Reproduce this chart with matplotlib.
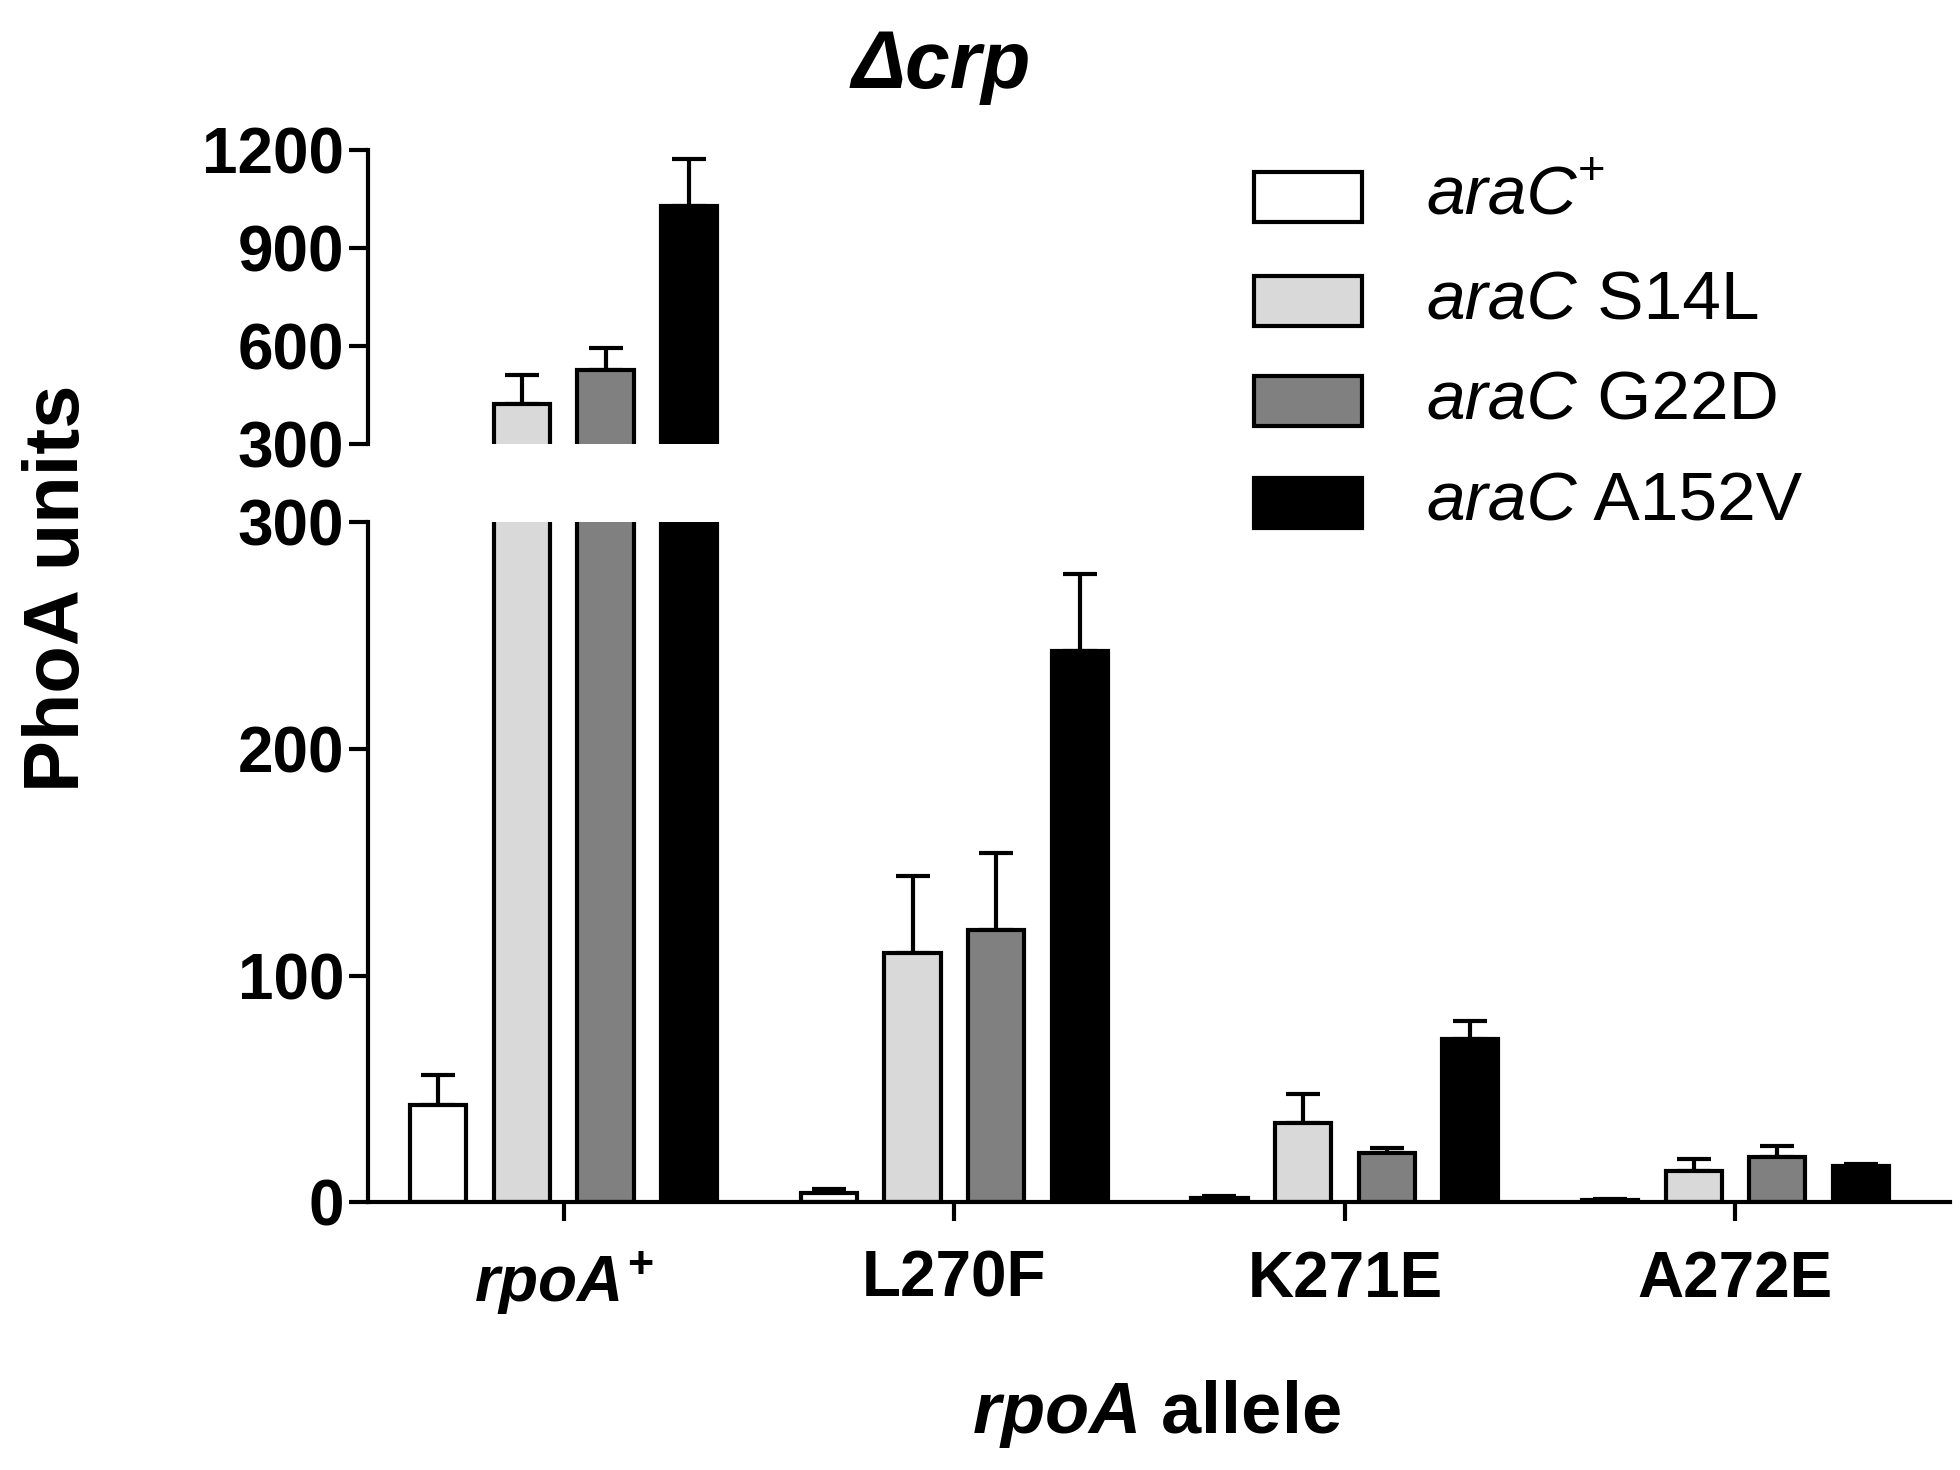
import matplotlib
matplotlib.use("Agg")
import matplotlib.pyplot as plt
import numpy as np

plt.rcParams['font.family'] = ['Liberation Sans', 'DejaVu Sans']
plt.rcParams['mathtext.fontset'] = 'custom'
plt.rcParams['mathtext.it'] = 'Liberation Sans:bold:italic'
plt.rcParams['mathtext.rm'] = 'Liberation Sans:bold'
plt.rcParams['mathtext.bf'] = 'Liberation Sans:bold'

groups = ["$rpoA^{+}$", "L270F", "K271E", "A272E"]
series = ["araC+", "araC S14L", "araC G22D", "araC A152V"]
colors = ["white", "#d9d9d9", "#808080", "black"]
means = [
    [43, 4, 2, 1],
    [422, 110, 35, 14],
    [526, 120, 22, 20],
    [1028, 243, 72, 16],
]
errs = [
    [13, 2, 1, 0.5],
    [90, 34, 13, 5],
    [69, 34, 2, 5],
    [145, 34, 8, 1],
]

fig = plt.figure(figsize=(19.6, 14.7), dpi=100)
axt = fig.add_axes([0.188, 0.698, 0.807, 0.2])
axb = fig.add_axes([0.188, 0.182, 0.807, 0.463])

x = np.arange(4) * 1.0
off = 67 / 313
w = 45 / 313
for ax in (axt, axb):
    for i in range(4):
        pos = x + (i - 1.5) * off
        ax.bar(pos, means[i], w, color=colors[i], edgecolor="black", linewidth=3, zorder=2)
        ax.errorbar(pos, means[i], yerr=[np.zeros(4), errs[i]], fmt="none",
                    ecolor="black", elinewidth=3, capsize=12, capthick=3, zorder=1)
    ax.set_xlim(-0.5, 3.55)
    for s in ("top", "right"):
        ax.spines[s].set_visible(False)
    ax.spines["left"].set_linewidth(3)
    ax.tick_params(axis="y", width=3, length=14, labelsize=46)

axt.set_ylim(300, 1200)
axt.set_yticks([300, 600, 900, 1200])
axt.spines["bottom"].set_visible(False)
axt.set_xticks([])
axb.set_ylim(0, 300)
axb.set_yticks([0, 100, 200, 300])
axb.spines["bottom"].set_linewidth(3)
axb.set_xticks(x)
axb.set_xticklabels(groups, fontsize=46, fontweight="bold")
axb.tick_params(axis="x", width=3, length=14, pad=20)
for ax in (axt, axb):
    ax.set_yticklabels([str(int(v)) for v in ax.get_yticks()], fontsize=46, fontweight="bold")

fig.text(0.03, 0.6, "PhoA units", rotation=90, fontsize=56, fontweight="bold", va="center", ha="center")
fig.text(0.59, 0.025, "$rpoA$ allele", fontsize=52, fontweight="bold", ha="center")
fig.text(0.48, 0.94, "Δcrp", fontsize=58, fontweight="bold", fontstyle="italic", ha="center")

suffix = ["", " S14L", " G22D", " A152V"]
ys = [0.866, 0.795, 0.727, 0.658]
for i in range(4):
    fig.patches.append(plt.Rectangle((0.64, ys[i] - 0.017), 0.055, 0.034, transform=fig.transFigure,
                                     facecolor=colors[i], edgecolor="black", linewidth=3))
    t = fig.text(0.728, ys[i], "araC", fontsize=50, fontstyle="italic", va="center")
    if i == 0:
        fig.text(0.0, 0.0, "+", fontsize=34, transform=t.get_transform()) if False else None
        ann = plt.annotate("+", xy=(1, 0.55), xycoords=t, fontsize=34, va="bottom", ha="left",
                           annotation_clip=False)
    else:
        plt.annotate(suffix[i], xy=(1, 0.5), xycoords=t, fontsize=50, va="center", ha="left",
                     annotation_clip=False)

fig.savefig("out.png", dpi=100)
